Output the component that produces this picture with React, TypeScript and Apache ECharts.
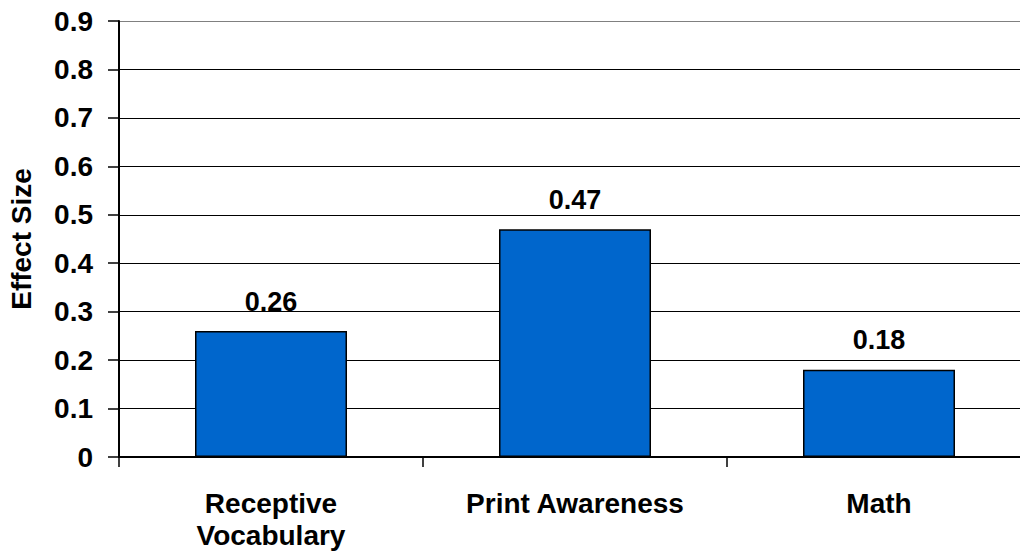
import React, { useEffect, useRef } from "react";
import * as echarts from "echarts";

const categories = ["Receptive\nVocabulary", "Print Awareness", "Math"];
const effectSizes = [0.26, 0.47, 0.18];
const yAxisName = "Effect Size";

const FONT = "Liberation Sans, Arial, sans-serif";

export default function App() {
  const ref = useRef<HTMLDivElement>(null);
  useEffect(() => {
    if (!ref.current) return;
    const chart = echarts.init(ref.current, null, { renderer: "svg" });
    chart.setOption({
      animation: false,
      backgroundColor: "#ffffff",
      grid: {
        left: 119,
        top: 21,
        width: 912,
        height: 436,
        containLabel: false,
        outerBoundsMode: "none",
      },
      xAxis: {
        type: "category",
        data: categories,
        axisLine: { show: true, lineStyle: { color: "#000", width: 2 } },
        axisTick: { show: true, length: 10, lineStyle: { color: "#000", width: 1.5 } },
        axisLabel: {
          color: "#000",
          fontFamily: FONT,
          fontWeight: "bold",
          fontSize: 28,
          lineHeight: 32,
          margin: 30,
        },
        splitLine: { show: false },
      },
      yAxis: {
        type: "value",
        min: 0,
        max: 0.9,
        interval: 0.1,
        name: yAxisName,
        nameLocation: "middle",
        nameRotate: 90,
        nameGap: 84,
        nameTextStyle: { color: "#000", fontFamily: FONT, fontWeight: "bold", fontSize: 28 },
        axisLine: { show: true, lineStyle: { color: "#000", width: 2 } },
        axisTick: { show: true, inside: false, length: 11, lineStyle: { color: "#000", width: 1.5 } },
        axisLabel: {
          color: "#000",
          fontFamily: FONT,
          fontWeight: "bold",
          fontSize: 28,
          margin: 26,
          formatter: (v: number) => (v === 0 ? "0" : v.toFixed(1)),
        },
        splitLine: {
          show: true,
          lineStyle: { color: ["#000", "#000", "#000", "#000", "#000", "#000", "#000", "#000", "#000", "#808080"], width: 1 },
        },
      },
      series: [
        {
          type: "bar",
          data: effectSizes,
          barWidth: "50%",
          itemStyle: { color: "#0066CC", borderColor: "#000", borderWidth: 1.5 },
          label: {
            show: true,
            position: "top",
            distance: 16,
            color: "#000",
            fontFamily: FONT,
            fontWeight: "bold",
            fontSize: 27,
            formatter: (p: any) => p.value.toFixed(2),
          },
        },
      ],
    });
    return () => chart.dispose();
  }, []);
  return <div ref={ref} style={{ width: 1020, height: 555, position: "absolute", left: 0, top: 0 }} />;
}
